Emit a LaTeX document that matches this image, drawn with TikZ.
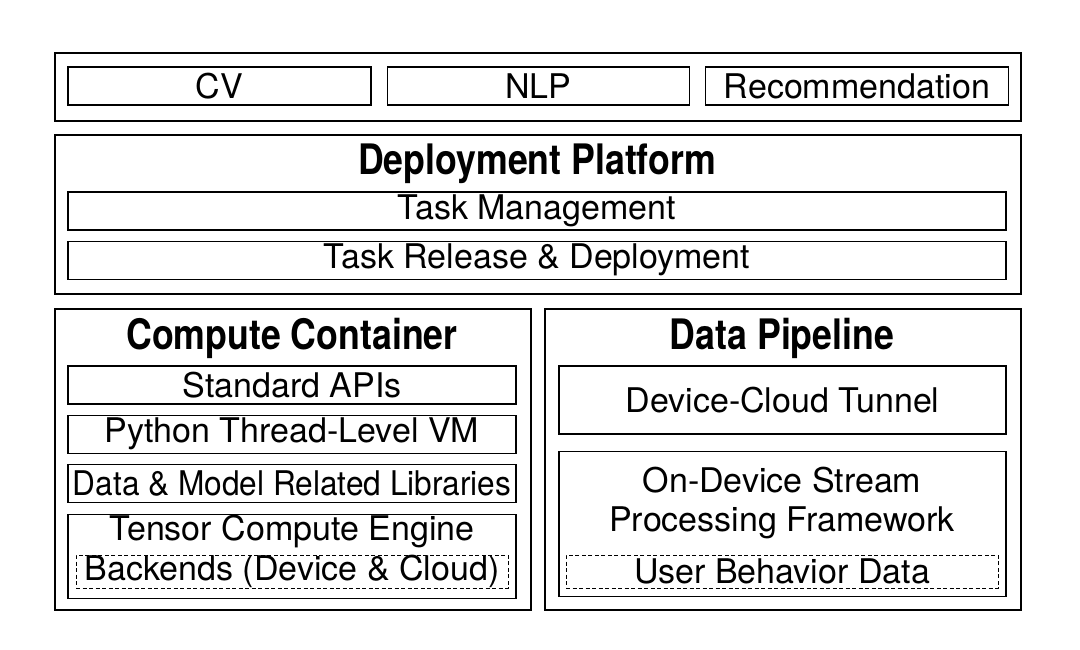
\documentclass[tikz,border=0pt]{standalone}
\usepackage{fontspec}
\setmainfont{TeX Gyre Heros}
\newfontfamily\headfont{TeX Gyre Heros}[FakeStretch=0.85]
\newfontfamily\narrowfont{TeX Gyre Heros}[FakeStretch=0.93]
\usepackage{tikz}
\usetikzlibrary{positioning}

\tikzset{
	layer/.style={draw, line width=2.2pt, inner sep=0pt, anchor=north west},
	part/.style={draw, line width=1.2pt, inner sep=0pt, minimum height=38pt, font=\fontsize{34}{39}\selectfont},
	src/.style={draw, dash pattern=on 4pt off 2.5pt, line width=0.9pt, inner sep=0pt, minimum height=33pt, font=\fontsize{34}{39}\selectfont},
	head/.style={inner sep=0pt, font=\headfont\bfseries\fontsize{42}{46}\selectfont}
}

\begin{document}
\begin{tikzpicture}[x=1pt, y=-1pt]
	\useasboundingbox (0,0) rectangle (1080,650);
	
	% applications
	\node[layer, minimum width=966pt, minimum height=68pt] (apps) at (54,52) {};
	\node[part, minimum width=303pt] (cv) at (219.5,86) {CV};
	\node[part, minimum width=302pt, right=15pt of cv] (nlp) {NLP};
	\node[part, minimum width=303pt, right=15pt of nlp] (rec) {Recommendation};
	
	% deployment platform
	\node[layer, minimum width=966pt, minimum height=159pt] (deploy) at (54,134) {};
	\node[head] (deploytitle) at (537,164) {Deployment Platform};
	\node[part, minimum width=938pt] (taskman) at (537,211) {Task Management};
	\node[part, minimum width=938pt, below=10pt of taskman] (release) {Task Release \& Deployment};
	
	% compute container
	\node[layer, minimum width=476pt, minimum height=301pt] (compute) at (54,308) {};
	\node[head] (computetitle) at (292,338) {Compute Container};
	\node[part, minimum width=448pt] (apis) at (292,385) {Standard APIs};
	\node[part, minimum width=448pt, below=10pt of apis] (pyvm) {Python Thread-Level VM};
	\node[part, minimum width=448pt, below=10pt of pyvm, font=\narrowfont\fontsize{34}{39}\selectfont] (libs) {Data \& Model Related Libraries};
	\node[part, minimum width=448pt, minimum height=84pt, below=11pt of libs] (tensor) {};
	\node[inner sep=0pt, font=\fontsize{34}{39}\selectfont] (tensortext) at (292,532) {Tensor Compute Engine};
	\node[src, minimum width=432pt] (backends) at (292,571.5) {Backends (Device \& Cloud)};
	
	% data pipeline
	\node[layer, minimum width=476pt, minimum height=301pt] (pipeline) at (544,308) {};
	\node[head] (pipelinetitle) at (782,338) {Data Pipeline};
	\node[part, minimum width=447pt, minimum height=68pt] (tunnel) at (782.5,400) {Device-Cloud Tunnel};
	\node[part, minimum width=447pt, minimum height=145pt, below=16pt of tunnel] (stream) {};
	\node[inner sep=0pt, align=center, font=\fontsize{34}{39}\selectfont] (streamtext) at (782,503) {On-Device Stream\\Processing Framework};
	\node[src, minimum width=432pt] (behavior) at (782,571.5) {User Behavior Data};
\end{tikzpicture}
\end{document}
